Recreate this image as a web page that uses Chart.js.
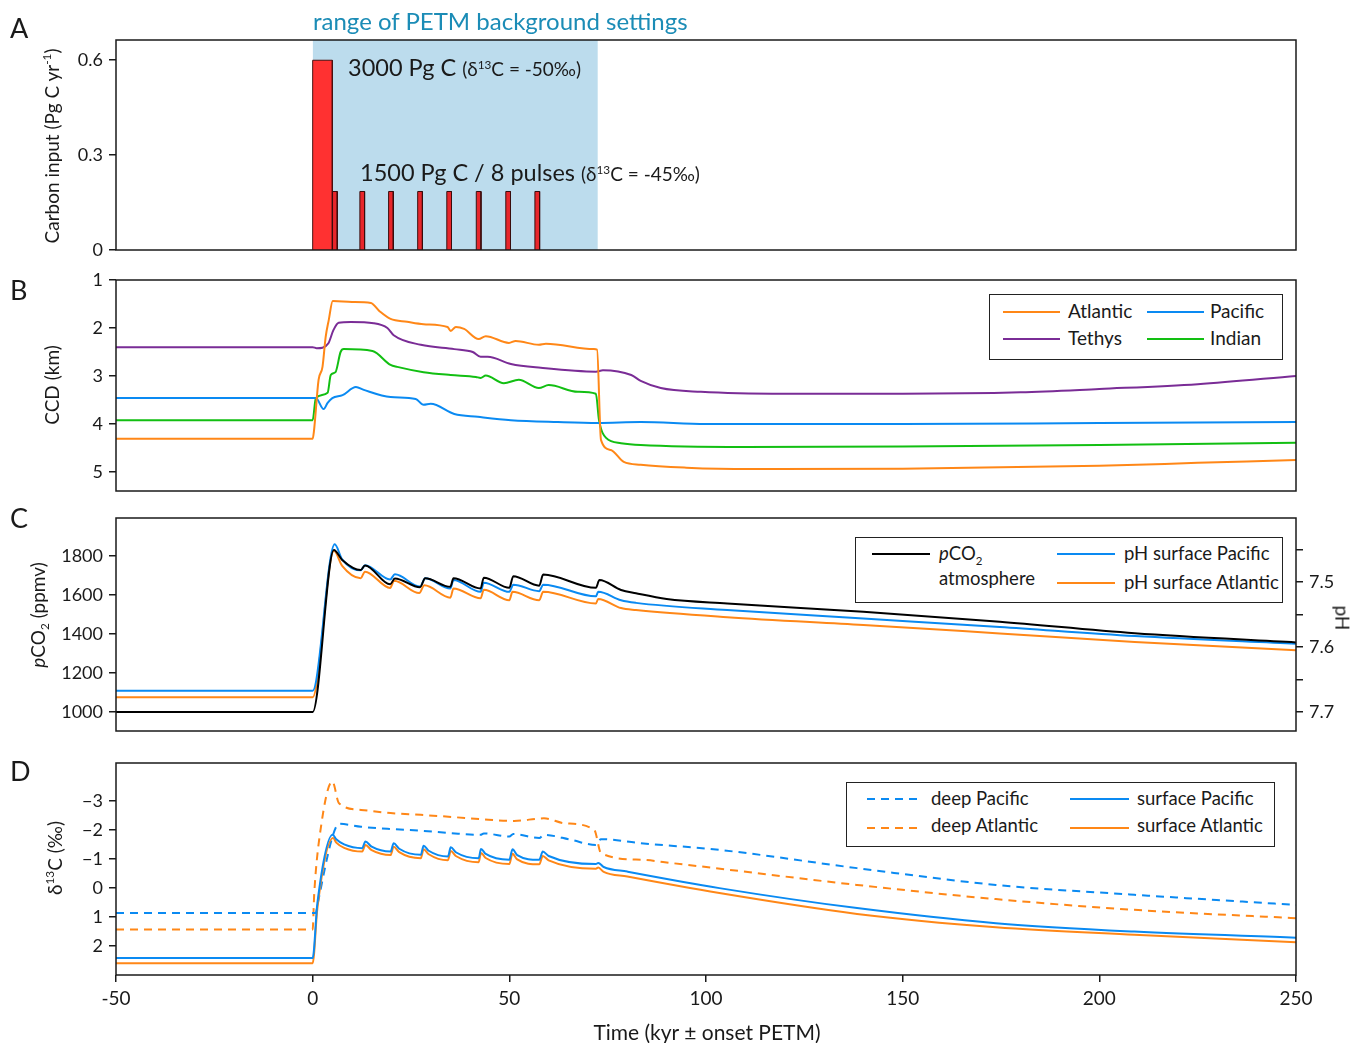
<!DOCTYPE html>
<html>
<head>
<meta charset="utf-8">
<script src="https://cdn.jsdelivr.net/npm/chart.js@4.4.0/dist/chart.umd.min.js"></script>
<style>
  body { margin: 0; background: #fff; }
  #wrap { position: relative; width: 1350px; height: 1043px; font-family: Lato, "Open Sans", sans-serif; color: #1a1a1a; }
  canvas { position: absolute; left: 0; }
  .t { position: absolute; white-space: nowrap; line-height: 1.2; }
  .box { position: absolute; border: 1px solid #222; background: #fff; box-sizing: border-box; }
  .sw { position: absolute; height: 2px; }
  sup, sub { font-size: 62%; line-height: 0; }
</style>
</head>
<body>
<div id="wrap">
  <canvas id="cA" width="1350" height="262" style="top:0px"></canvas>
  <canvas id="cB" width="1350" height="240" style="top:262px"></canvas>
  <canvas id="cC" width="1350" height="238" style="top:502px"></canvas>
  <canvas id="cD" width="1350" height="303" style="top:740px"></canvas>
</div>
<script>
// ---- data (time in kyr relative to PETM onset) ----
const xTicks = [-50, 0, 50, 100, 150, 200, 250];

// panel A: carbon input
const mainPulse = { start: 0, end: 5, rate: 0.6 };
const pulseStart = [5.05, 12.0, 19.3, 26.7, 34.1, 41.6, 49.1, 56.5];
const pulseLength = 1.2;
const pulseRate = 0.185;
const shadeRange = [0, 72.5];
const aTicks = [0, 0.3, 0.6];

// panel B: CCD (km)
const ccdAtlantic = [[-50,4.31],[0,4.31],[0.3,4.17],[1.5,3.08],[2.5,2.81],[3.3,2.19],[4.1,1.83],[5.1,1.44],[10,1.46],[14.8,1.48],
  [17,1.65],[19.8,1.81],[24,1.87],[28.2,1.92],[34.3,1.98],[35.1,2.06],[36.4,1.98],[38.5,2.02],[42.2,2.23],[44,2.17],
  [49.9,2.31],[51.6,2.27],[57.5,2.35],[59.3,2.33],[71.5,2.44],[72.3,2.45],[73.3,4.33],[75.8,4.54],[79.1,4.79],[83.4,4.85],
  [95,4.91],[111,4.94],[150,4.93],[200,4.87],[225,4.81],[250,4.75]];
const ccdPacific = [[-50,3.46],[0.8,3.46],[2.8,3.69],[3.8,3.56],[5,3.46],[7.6,3.4],[11,3.23],[13,3.29],[19.8,3.44],[26.2,3.48],
  [28.2,3.6],[30,3.58],[36,3.79],[42,3.85],[50.4,3.92],[62.3,3.96],[72.5,3.98],[83.4,3.96],[100,4.0],[150,4.0],[200,3.98],[250,3.96]];
const ccdTethys = [[-50,2.40],[0,2.40],[1,2.42],[2.5,2.41],[4,2.32],[5.3,2.04],[6.6,1.89],[9.7,1.875],[15.5,1.9],[19,2.0],
  [20.6,2.15],[27.5,2.35],[36,2.44],[40.7,2.5],[42.7,2.6],[44.5,2.6],[50.4,2.75],[58,2.83],[72,2.91],[73.8,2.88],[81,2.98],
  [83.4,3.1],[88.5,3.25],[98.7,3.33],[120,3.37],[150,3.37],[180,3.34],[200,3.27],[225,3.17],[250,3.0]];
const ccdIndian = [[-50,3.92],[0,3.92],[0.8,3.46],[3.8,3.35],[4.6,2.98],[5.8,2.92],[7.1,2.5],[7.9,2.44],[15.2,2.48],[19.8,2.77],
  [21.5,2.81],[28.2,2.92],[35.1,2.98],[41.5,3.02],[42.7,3.04],[44,2.99],[48.6,3.15],[52.4,3.08],[57.5,3.25],[60,3.19],
  [67.4,3.33],[72,3.37],[72.8,3.92],[74.6,4.29],[78.4,4.4],[83.4,4.44],[110,4.48],[150,4.47],[200,4.44],[250,4.39]];
const ccdTicks = [1, 2, 3, 4, 5];

// panel C: atmospheric pCO2 (ppmv) and surface pH
const pco2Atm = [[-50,1000],[0,1000],[5.4,1831],[7.5,1780],[12.2,1728],[13.3,1752],[19.7,1655],[20.9,1685],[27.3,1640],[28.6,1686],
  [35,1642],[35.8,1686],[42.7,1634],[43.5,1689],[50,1637],[51,1697],[57.6,1648],[58.6,1705],[72,1637],[72.9,1677],[78.4,1626],
  [82.2,1609],[90,1580],[105.4,1557],[140,1514],[174.7,1463],[209,1404],[250,1357]];
const phPacific = [[-50,7.667],[0,7.667],[5.6,7.442],[7.5,7.465],[12.2,7.482],[13.3,7.474],[19.7,7.496],[20.9,7.488],[27.3,7.507],
  [28.6,7.494],[35,7.510],[35.8,7.497],[42.7,7.515],[43.5,7.501],[50,7.515],[51,7.504],[57.6,7.514],[58.6,7.504],[72,7.522],
  [72.6,7.515],[78.4,7.528],[82.2,7.532],[105.4,7.543],[140,7.556],[174.7,7.569],[209,7.583],[250,7.595]];
const phAtlantic = [[-50,7.677],[0,7.677],[5.4,7.452],[7.5,7.475],[12.2,7.494],[13.3,7.484],[19.7,7.509],[20.7,7.498],[27.1,7.517],
  [28.4,7.505],[35,7.524],[35.8,7.510],[42.7,7.525],[43.5,7.512],[50,7.528],[50.8,7.515],[57.6,7.528],[58.6,7.515],[72,7.533],
  [72.6,7.526],[78.4,7.540],[82.2,7.543],[105.4,7.554],[140,7.566],[174.7,7.579],[209,7.592],[250,7.605]];
const pco2Ticks = [1000, 1200, 1400, 1600, 1800];
const phTicks = [7.45, 7.5, 7.55, 7.6, 7.65, 7.7];

// panel D: d13C (permil)
const d13cDeepPacific = [[-50,0.87],[0.8,0.87],[1.2,0.6],[5,-1.75],[6.7,-2.21],[12.3,-2.11],[19.8,-2.03],[27.5,-1.97],[35,-1.89],
  [42.7,-1.83],[43.5,-1.88],[50,-1.77],[51,-1.86],[57.6,-1.72],[58.8,-1.83],[65.6,-1.66],[72,-1.48],[73.3,-1.68],[83.4,-1.54],
  [103.4,-1.31],[138.4,-0.68],[173.7,-0.10],[208.9,0.24],[250,0.59]];
const d13cDeepAtlantic = [[-50,1.44],[0,1.44],[0.4,0.2],[2,-2.0],[5,-3.67],[6.7,-2.92],[12.3,-2.69],[19.8,-2.58],[27.5,-2.52],
  [36,-2.44],[42.7,-2.37],[51.2,-2.31],[58.8,-2.40],[64,-2.23],[71.6,-2.0],[73.3,-1.2],[83.4,-0.97],[91.6,-0.85],[138.4,-0.10],
  [173.7,0.39],[208.9,0.76],[250,1.05]];
const d13cSurfPacific = [[-50,2.42],[0,2.42],[1.2,0.53],[5.1,-1.83],[6,-1.68],[8,-1.5],[12.6,-1.37],[13.4,-1.6],[15,-1.42],
  [19.8,-1.25],[20.6,-1.54],[22,-1.35],[27.5,-1.14],[28.2,-1.45],[29.5,-1.28],[34.4,-1.08],[35.1,-1.40],[36.5,-1.22],[42.2,-1.02],
  [42.8,-1.34],[44,-1.17],[50,-0.97],[50.8,-1.33],[52,-1.13],[57.6,-0.97],[58.5,-1.25],[60,-1.1],[72,-0.82],[72.6,-0.86],
  [74,-0.72],[80,-0.56],[103.4,0.01],[138.4,0.70],[173.7,1.22],[208.9,1.51],[250,1.72]];
const d13cSurfAtlantic = [[-50,2.6],[0,2.6],[1.2,0.7],[5.2,-1.72],[6,-1.56],[8,-1.38],[12.6,-1.25],[13.4,-1.48],[15,-1.3],
  [19.8,-1.13],[20.6,-1.42],[22,-1.23],[27.5,-1.02],[28.2,-1.33],[29.5,-1.16],[34.4,-0.95],[35.1,-1.27],[36.5,-1.09],[42.2,-0.88],
  [42.8,-1.2],[44,-1.03],[50,-0.82],[50.8,-1.18],[52,-0.98],[57.6,-0.81],[58.5,-1.1],[60,-0.95],[72,-0.66],[72.6,-0.7],
  [74,-0.55],[80,-0.39],[103.4,0.18],[138.4,0.90],[173.7,1.36],[208.9,1.62],[250,1.88]];
const d13cTicks = [-3, -2, -1, 0, 1, 2];

// ---- styling ----
const FONT = 'Lato, "Open Sans", sans-serif';
const INK = '#1a1a1a';
const ORANGE = '#ff8717';
const BLUE = '#0a8af2';
const PURPLE = '#7a2c96';
const GREEN = '#12bf12';
const DASH = [8, 6];

Chart.defaults.font.family = FONT;
Chart.defaults.color = INK;

const framePlugin = {
  id: 'frame',
  afterDatasetsDraw(chart) {
    const { ctx, chartArea: a } = chart;
    ctx.save();
    ctx.strokeStyle = INK;
    ctx.lineWidth = 1.5;
    ctx.strokeRect(a.left, a.top, a.right - a.left, a.bottom - a.top);
    ctx.restore();
  }
};

function toXY(pts) {
  return pts.map(p => ({ x: p[0], y: p[1] }));
}

function line(label, pts, color, axis, dash) {
  return {
    label, data: toXY(pts), borderColor: color, borderWidth: 2, pointRadius: 0,
    tension: 0.15, cubicInterpolationMode: 'monotone', fill: false, yAxisID: axis || 'y',
    borderDash: dash || [], borderJoinStyle: 'round'
  };
}

function block(label, x0, x1, h, fillColor, borderColor, order) {
  return {
    label, data: [{ x: x0, y: 0 }, { x: x0, y: h }, { x: x1, y: h }, { x: x1, y: 0 }],
    borderColor: borderColor, borderWidth: borderColor ? 1 : 0, backgroundColor: fillColor,
    fill: 'origin', pointRadius: 0, tension: 0, order: order
  };
}

function xScale(show) {
  const s = {
    type: 'linear', min: -50, max: 250, display: show,
    afterBuildTicks: sc => { sc.ticks = xTicks.map(v => ({ value: v })); },
    grid: { drawOnChartArea: false, color: INK, tickLength: 7, lineWidth: 1.5 },
    border: { display: false },
    ticks: { color: INK, font: { size: 19 }, padding: 5, maxRotation: 0, callback: v => String(v) }
  };
  if (show) s.afterFit = sc => { sc.height = 68; sc.paddingLeft = 0; sc.paddingRight = 0; };
  return s;
}

// fixed width, and no extra room for labels hanging past the ends
function fixWidth(w) {
  return s => { s.width = w; s.paddingTop = 0; s.paddingBottom = 0; };
}

function yScale(min, max, ticks, fmt, opts) {
  return Object.assign({
    type: 'linear', min, max, position: 'left',
    afterBuildTicks: s => { s.ticks = ticks.map(v => ({ value: v })); },
    grid: { drawOnChartArea: false, color: INK, tickLength: 7, lineWidth: 1.5 },
    border: { display: false },
    ticks: { color: INK, font: { size: 18 }, padding: 6, callback: fmt },
    afterFit: fixWidth(116)
  }, opts || {});
}

function makeChart(id, datasets, scales, padding) {
  return new Chart(document.getElementById(id), {
    type: 'line',
    data: { datasets },
    options: {
      responsive: false, animation: false,
      layout: { padding },
      plugins: { legend: { display: false }, tooltip: { enabled: false } },
      scales
    },
    plugins: [framePlugin]
  });
}

// ---- panel A ----
const aSets = [
  block('shade', shadeRange[0], shadeRange[1], 0.664, '#bcdced', null, 10),
  block('3000 Pg C', mainPulse.start, mainPulse.end, mainPulse.rate, '#ff3131', '#4a1010', 2)
];
pulseStart.forEach((s, i) => {
  aSets.push(block('pulse ' + (i + 1), s, s + pulseLength, pulseRate, '#e8262b', '#3a0c0c', 1));
});
makeChart('cA', aSets, {
  x: xScale(false),
  y: yScale(0, 0.664, aTicks, v => v === 0 ? '0' : v.toFixed(1))
}, { top: 40, bottom: 12, right: 54, left: 0 });

// ---- panel B ----
makeChart('cB', [
  line('Atlantic', ccdAtlantic, ORANGE),
  line('Pacific', ccdPacific, BLUE),
  line('Indian', ccdIndian, GREEN),
  line('Tethys', ccdTethys, PURPLE)
], {
  x: xScale(false),
  y: yScale(1, 5.396, ccdTicks, v => String(v), { reverse: true })
}, { top: 18, bottom: 11, right: 54, left: 0 });

// ---- panel C ----
makeChart('cC', [
  line('pCO2 atmosphere', pco2Atm, '#000000', 'y'),
  line('pH surface Pacific', phPacific, BLUE, 'y2'),
  line('pH surface Atlantic', phAtlantic, ORANGE, 'y2')
], {
  x: xScale(false),
  y: yScale(903, 1995, pco2Ticks, v => String(v)),
  y2: yScale(7.4015, 7.729, phTicks,
    v => Math.abs(v * 10 - Math.round(v * 10)) < 1e-6 ? v.toFixed(1) : '',
    { position: 'right', reverse: true, afterFit: fixWidth(54) })
}, { top: 16, bottom: 9, right: 0, left: 0 });

// ---- panel D ----
makeChart('cD', [
  line('surface Pacific', d13cSurfPacific, BLUE),
  line('surface Atlantic', d13cSurfAtlantic, ORANGE),
  line('deep Pacific', d13cDeepPacific, BLUE, 'y', DASH),
  line('deep Atlantic', d13cDeepAtlantic, ORANGE, 'y', DASH)
], {
  x: xScale(true),
  y: yScale(-4.31, 3.01, d13cTicks, v => v < 0 ? '\u2212' + Math.abs(v) : String(v), { reverse: true })
}, { top: 23, bottom: 0, right: 54, left: 0 });

// ---- text, legends ----
const wrap = document.getElementById('wrap');

function addText(html, x, y, size, extra) {
  const d = document.createElement('div');
  d.className = 't';
  d.innerHTML = html;
  d.style.left = x + 'px';
  d.style.top = y + 'px';
  d.style.fontSize = size + 'px';
  d.style.transform = 'translateY(-50%)';
  Object.assign(d.style, extra || {});
  wrap.appendChild(d);
  return d;
}
function addRotated(html, cx, cy, size, deg) {
  return addText(html, cx, cy, size, { transform: 'translate(-50%,-50%) rotate(' + deg + 'deg)' });
}
function addBox(x1, y1, x2, y2) {
  const d = document.createElement('div');
  d.className = 'box';
  Object.assign(d.style, { left: x1 + 'px', top: y1 + 'px', width: (x2 - x1) + 'px', height: (y2 - y1) + 'px' });
  wrap.appendChild(d);
}
function addSwatch(x1, x2, y, color, dashed) {
  const d = document.createElement('div');
  d.className = 'sw';
  Object.assign(d.style, { left: x1 + 'px', top: (y - 1) + 'px', width: (x2 - x1) + 'px' });
  d.style.background = dashed
    ? 'repeating-linear-gradient(90deg,' + color + ' 0 8px, transparent 8px 14px)'
    : color;
  wrap.appendChild(d);
}

// panel letters
addText('A', 10, 28, 27);
addText('B', 10, 290, 27);
addText('C', 10, 518, 27);
addText('D', 10, 771, 27);

// panel A annotations
addText('range of PETM background settings', 313, 21, 24, { color: '#1b8cb6' });
addText('3000 Pg C <span style="font-size:19px">(δ<sup>13</sup>C = -50‰)</span>', 348, 67, 23.5);
addText('1500 Pg C / 8 pulses <span style="font-size:19px">(δ<sup>13</sup>C = -45‰)</span>', 360, 172, 23.5);

// axis titles
addRotated('Carbon input (Pg C yr<sup>-1</sup>)', 52, 146, 19, -90);
addRotated('CCD (km)', 52, 385, 19, -90);
addRotated('<i>p</i>CO<sub>2</sub> (ppmv)', 38, 615, 19, -90);
addRotated('pH', 1342, 618, 19, 90);
addRotated('δ<sup>13</sup>C (‰)', 55, 858, 19, -90);
addText('Time (kyr ± onset PETM)', 707, 1032, 21, { transform: 'translate(-50%,-50%)' });

// legend B
addBox(989, 294, 1283, 360);
addSwatch(1003, 1060, 312, ORANGE);
addText('Atlantic', 1068, 311, 19);
addSwatch(1147, 1204, 312, BLUE);
addText('Pacific', 1210, 311, 19);
addSwatch(1003, 1060, 339, PURPLE);
addText('Tethys', 1068, 338, 19);
addSwatch(1147, 1204, 339, GREEN);
addText('Indian', 1210, 338, 19);

// legend C
addBox(855, 537, 1283, 603);
addSwatch(872, 930, 554, '#000');
addText('<i>p</i>CO<sub>2</sub>', 939, 553, 18.5);
addText('atmosphere', 939, 578, 18.5);
addSwatch(1057, 1115, 554, BLUE);
addText('pH surface Pacific', 1124, 553, 18.5);
addSwatch(1057, 1115, 583, ORANGE);
addText('pH surface Atlantic', 1124, 582, 18.5);

// legend D
addBox(846, 782, 1275, 847);
addSwatch(867, 923, 799, BLUE, true);
addText('deep Pacific', 931, 798, 18.5);
addSwatch(1070, 1129, 799, BLUE);
addText('surface Pacific', 1137, 798, 18.5);
addSwatch(867, 923, 828, ORANGE, true);
addText('deep Atlantic', 931, 825, 18.5);
addSwatch(1070, 1129, 828, ORANGE);
addText('surface Atlantic', 1137, 825, 18.5);
</script>
</body>
</html>
